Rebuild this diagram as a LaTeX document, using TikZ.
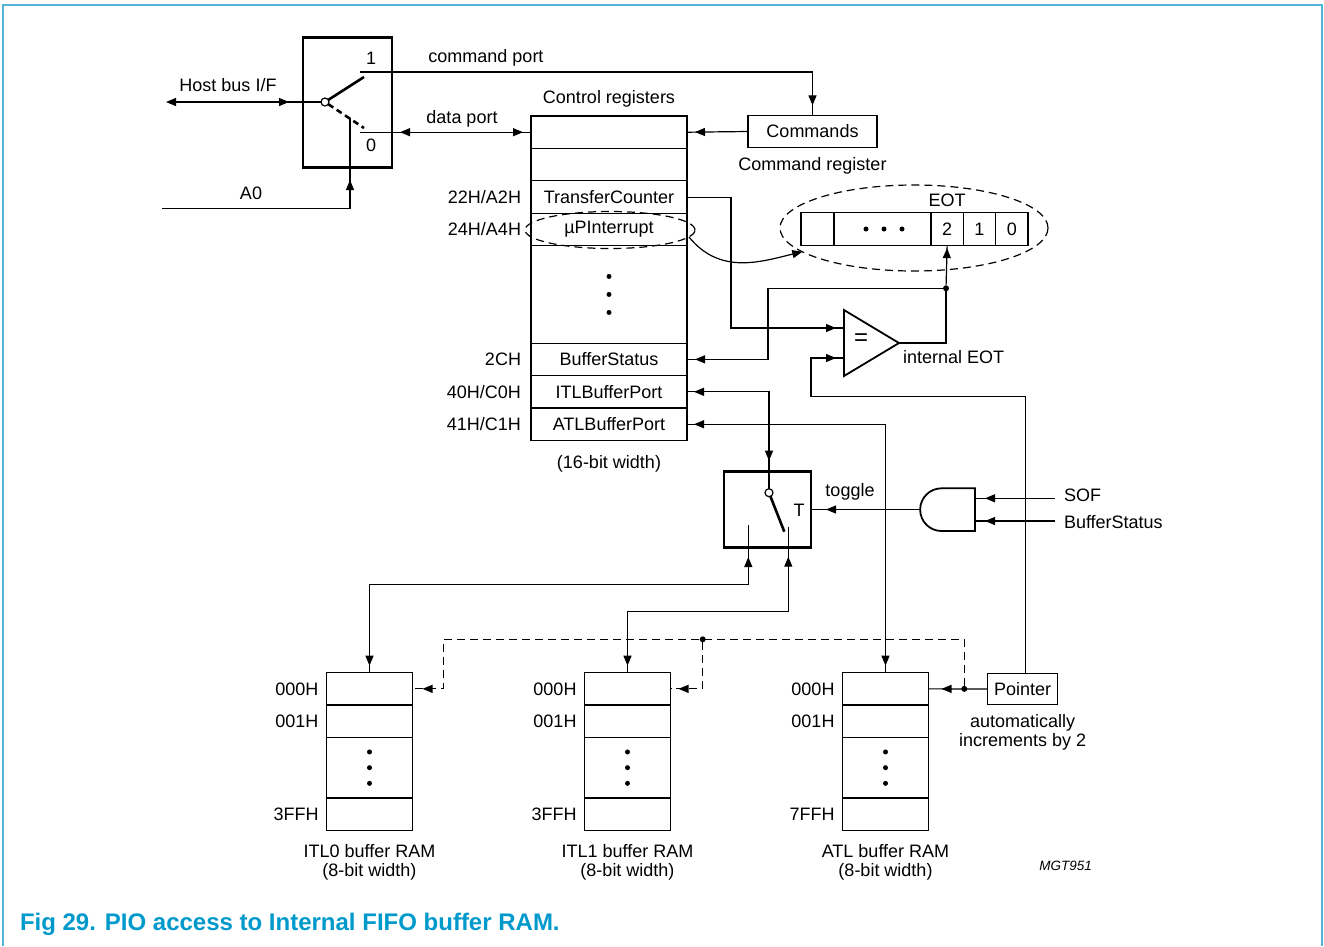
\documentclass[tikz,border=0pt]{standalone}
\usepackage{fontspec}
\setmainfont{Liberation Sans}
\usetikzlibrary{positioning,arrows.meta,decorations.markings,shapes.geometric}
\definecolor{nxpblue}{RGB}{0,153,204}
\definecolor{framebl}{RGB}{80,180,215}

\begin{document}
\begin{tikzpicture}[x=1pt,y=-1pt,line width=1.2pt,
  font=\fontsize{18}{19}\selectfont,
  arr/.style={postaction={decorate,decoration={markings,
    mark=at position -#1 with {\arrow{Triangle[length=10pt,width=8pt]}}}}},
  arr/.default=8pt,
  rarr/.style={postaction={decorate,decoration={markings,
    mark=at position #1 with {\arrowreversed{Triangle[length=10pt,width=8pt]}}}}},
  rarr/.default=8pt,
  reg/.style={draw, minimum width=156pt, minimum height=32.45pt},
  ram/.style={draw, minimum width=86pt, minimum height=32.3pt},
  cell/.style={draw, minimum width=32.3pt, minimum height=32.3pt},
  swbox/.style={draw, line width=2.6pt},
  pivot/.style={circle, draw, fill=white, minimum size=8pt, line width=1.2pt},
  jdot/.style={circle, fill, minimum size=6pt},
  dashline/.style={dash pattern=on 8pt off 5pt}]
\tikzstyle{every node}+=[inner sep=0pt, outer sep=0pt]
\useasboundingbox (0,0) rectangle (1324,946);
\draw [framebl, line width=2pt] (3,946) -- (3,5) -- (1321.5,5) -- (1321.5,946);

% host bus switch
\node [swbox, minimum width=89pt, minimum height=129.7pt] (hostsw) at (347.5,102.5) {};
\node [pivot] (hpiv) at (325,102) {};
\coordinate (hone) at (360,72);
\coordinate (hzero) at (360,132.2);
\coordinate (hctl) at (350,118);
\coordinate (hostbus) at (166,102);
\coordinate (a0) at (162,208.3);
\draw [line width=2.6pt] (hpiv) -- (364,77);
\draw [line width=2.6pt, dash pattern=on 6pt off 4pt] (hpiv) -- (364,128);
\node (one) at (371,58) {1};
\node (zero) at (371,145) {0};
\draw [{Triangle[length=10pt,width=8pt]}-, arr=32pt] (hostbus) -- (hpiv);
\node (hostlbl) at (228,85) {Host bus I/F};
\draw [arr=62pt] (a0) -| (hctl);
\node (a0lbl) at (251,193) {A0};

% control registers
\node [reg] (r1) at (609,132.2) {};
\node [reg, below=0pt of r1] (r2) {};
\node [reg, below=0pt of r2] (tc) {TransferCounter};
\node [reg, below=0pt of tc] (upi) {µPInterrupt};
\node [reg, below=0pt of upi, minimum height=97.35pt] (ctdots) {};
\node [reg, below=0pt of ctdots] (bs) {BufferStatus};
\node [reg, below=0pt of bs] (itl) {ITLBufferPort};
\node [reg, below=0pt of itl] (atl) {ATLBufferPort};
\foreach \d in {-18,0,18}
  \fill ([yshift=\d pt]ctdots.center) circle[radius=2.5pt];
\node [above=9pt of r1] (ctltitle) {Control registers};
\node [below=15pt of atl] (ctlwidth) {(16-bit width)};
\node [left=10pt of tc] (tcaddr) {22H/A2H};
\node [left=10pt of upi] (upaddr) {24H/A4H};
\node [left=10pt of bs] (bsaddr) {2CH};
\node [left=10pt of itl] (itladdr) {40H/C0H};
\node [left=10pt of atl] (atladdr) {41H/C1H};
\node [ellipse, draw, dashline, minimum width=170pt, minimum height=37pt] (upring) at (610,230) {};

% command register
\node [draw, minimum width=129pt, minimum height=32.3pt] (cmd) at (812.5,131.5) {Commands};
\node [below=10pt of cmd] (cmdlbl) {Command register};
\draw [arr] (cmd.west) -- (r1.east);

% ports
\draw [arr=10pt] (hone) -| (cmd.north);
\node (cmdport) at (486,57.5) {command port};
\draw [rarr=40pt, arr] (hzero) -- (r1.west);
\node (dataport) at (462,119) {data port};

% EOT register
\node [cell, minimum width=33pt] (eb) at (817.5,229) {};
\node [cell, right=0pt of eb, minimum width=97pt] (edots) {};
\node [cell, right=0pt of edots] (e2) {2};
\node [cell, right=0pt of e2] (e1) {1};
\node [cell, right=0pt of e1] (e0) {0};
\foreach \d in {-16.5,1.5,19.5}
  \fill ([xshift=\d pt]edots.center) circle[radius=2.5pt];
\node [above=6pt of e2] (eotlbl) {EOT};
\node [ellipse, draw, dashline, minimum width=268pt, minimum height=86pt] (eotring) at (914,228) {};
\draw [-{Triangle[length=10pt,width=8pt]}] (upring.-5) .. controls (720,275) and (760,262) .. (eotring.192);

% comparator
\draw [line width=1.8pt] (844,310) -- (899,343) -- (844,376) -- cycle;
\node [font=\fontsize{24}{24}\selectfont] (eqsign) at (861,340) {=};
\coordinate (cmpa) at (844,328);
\coordinate (cmpb) at (844,358);
\coordinate (cmpq) at (899,343);
\node [anchor=west] (ieot) at (903,357) {internal EOT};
\node [jdot] (eotj) at (946,288.3) {};
\draw (cmpq) -| (eotj);
\draw [arr=3pt] (eotj) -- (e2.south);
\draw [arr] (eotj) -| ([xshift=81pt]bs.east) -- (bs.east);
\draw [arr] (tc.east) -- ++(44,0) |- (cmpa);

% pointer
\node [draw, minimum width=70pt, minimum height=31.7pt] (ptr) at (1022.7,689) {Pointer};
\node [align=center, below=10pt of ptr] (ptrlbl) {automatically\\increments by 2};
\draw [arr] ([xshift=3pt]ptr.north) |- (811,396.7) |- (cmpb);

% toggle switch
\node [swbox, minimum width=87pt, minimum height=75.6pt] (tsw) at (767.5,509.5) {};
\node [pivot] (tpiv) at (769,492.7) {};
\draw [line width=2.6pt] (tpiv) -- (784.3,531.7);
\coordinate (tleft) at (748.3,525);
\coordinate (tright) at (788.3,526.7);
\node (tlbl) at (799,510) {T};
\draw [rarr=7pt, arr=28pt] (itl.east) -| (tpiv);

% AND gate
\draw [line width=1.8pt] (975,488.3) -- (941.5,488.3) arc[start angle=90, end angle=270, radius=21.35pt] -- (975,531) -- cycle;
\coordinate (andq) at (920,509.5);
\coordinate (anda) at (975,498.3);
\coordinate (andb) at (975,521);
\coordinate (sof) at (1055,498.3);
\coordinate (bsin) at (1055,521);
\draw [arr=15pt] (andq) -- (tsw.east);
\node (togglelbl) at (850,492) {toggle};
\draw [arr=10pt] (sof) -- (anda);
\draw [arr=10pt] (bsin) -- (andb);
\node [anchor=west] (soflbl) at (1064,495) {SOF};
\node [anchor=west] (bslbl) at (1064,521.7) {BufferStatus};

% ITL0 buffer RAM
\node [ram] (i0a) at (369.5,688.85) {};
\node [ram, below=0pt of i0a] (i0b) {};
\node [ram, below=0pt of i0b, minimum height=60.7pt] (i0d) {};
\node [ram, below=0pt of i0d] (i0z) {};
\node [left=8pt of i0a] (i0aaddr) {000H};
\node [left=8pt of i0b] (i0baddr) {001H};
\node [left=8pt of i0z] (i0zaddr) {3FFH};
\node [align=center, below=14pt of i0z] (i0lbl) {ITL0 buffer RAM\\(8-bit width)};

% ITL1 buffer RAM
\node [ram] (i1a) at (627.5,688.85) {};
\node [ram, below=0pt of i1a] (i1b) {};
\node [ram, below=0pt of i1b, minimum height=60.7pt] (i1d) {};
\node [ram, below=0pt of i1d] (i1z) {};
\node [left=8pt of i1a] (i1aaddr) {000H};
\node [left=8pt of i1b] (i1baddr) {001H};
\node [left=8pt of i1z] (i1zaddr) {3FFH};
\node [align=center, below=14pt of i1z] (i1lbl) {ITL1 buffer RAM\\(8-bit width)};

% ATL buffer RAM
\node [ram] (ata) at (885.5,688.85) {};
\node [ram, below=0pt of ata] (atb) {};
\node [ram, below=0pt of atb, minimum height=60.7pt] (atd) {};
\node [ram, below=0pt of atd] (atz) {};
\node [left=8pt of ata] (ataaddr) {000H};
\node [left=8pt of atb] (atbaddr) {001H};
\node [left=8pt of atz] (atzaddr) {7FFH};
\node [align=center, below=14pt of atz] (atlbl) {ATL buffer RAM\\(8-bit width)};

\foreach \r in {i0d,i1d,atd}
  \foreach \d in {-15.7,0,15.7}
    \fill ([yshift=\d pt]\r.center) circle[radius=2.5pt];

% RAM connections
\draw [rarr=32pt, arr=7pt] (tleft) -- ++(0,59.3) -| (i0a.north);
\draw [rarr=30pt, arr=7pt] (tright) -- ++(0,85) -| (i1a.north);
\draw [rarr=7pt, arr=7pt] (atl.east) -| (ata.north);
\node [jdot] (pj) at (964.3,688.85) {};
\draw [arr=13pt] (ptr.west) -- (ata.east);
\draw [dashline, arr=10pt] (pj) |- (443.5,639.3) |- (i0a.east);
\node [jdot] (dj) at (702.7,639.3) {};
\draw [dashline, arr=8pt] (dj) |- (i1a.east);

\node [font=\fontsize{13.5}{14}\selectfont\itshape] (mgt) at (1065.5,866) {MGT951};
\node [anchor=base west, text=nxpblue, font=\fontsize{24}{26}\selectfont\bfseries] (caption) at (20,930) {Fig 29. PIO access to Internal FIFO buffer RAM.};
\end{tikzpicture}
\end{document}
